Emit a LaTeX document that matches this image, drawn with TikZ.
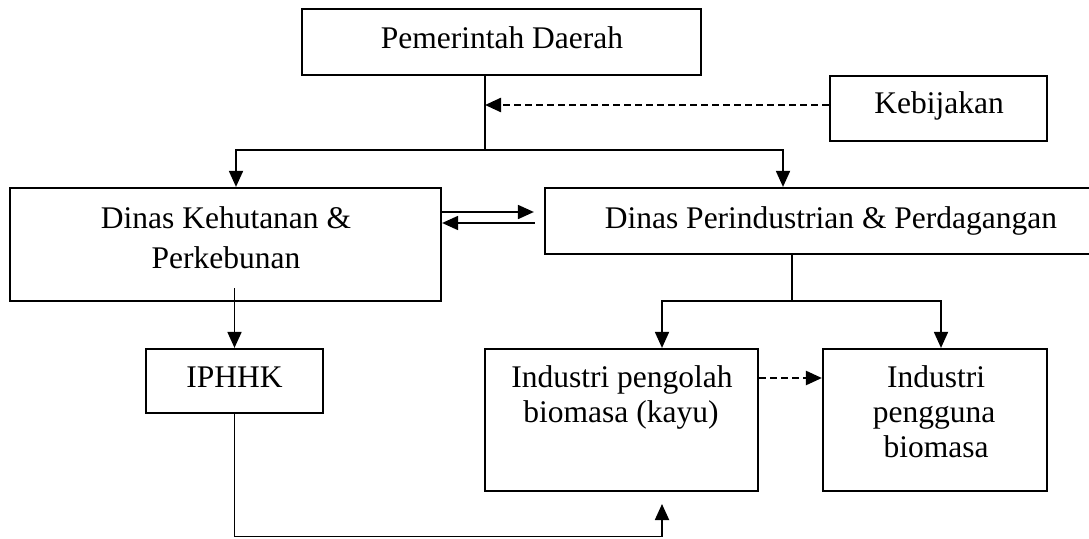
\documentclass[tikz,border=0pt]{standalone}
\usepackage{fontspec}
\setmainfont{Liberation Serif}
\usetikzlibrary{arrows.meta,calc}
\begin{document}
\begin{tikzpicture}[x=1pt,y=-1pt,
  box/.style={draw,line width=2.2pt,inner sep=0pt},
  txt/.style={anchor=base,inner sep=0pt,font=\fontsize{31.5}{35}\selectfont},
  conn/.style={line width=1.8pt},
  arr/.style={conn,-{Triangle[length=16pt,width=14pt]}},
  dasharr/.style={line width=2.4pt,dash pattern=on 7pt off 4pt,-{Triangle[length=16pt,width=14pt]}}]
\clip (0,0) rectangle (1089,538);
% boxes
\node[box,minimum width=399pt,minimum height=66pt] (pd) at (501.5,42) {};
\node[box,minimum width=217pt,minimum height=65pt] (keb) at (938.5,108.5) {};
\node[box,minimum width=431pt,minimum height=113pt] (dk) at (225.5,244.5) {};
\node[box,minimum width=555pt,minimum height=66pt] (dp) at (822.5,221) {};
\node[box,minimum width=177pt,minimum height=64pt] (ip) at (234.5,381) {};
\node[box,minimum width=273pt,minimum height=142pt] (ipb) at (621.5,420) {};
\node[box,minimum width=224pt,minimum height=142pt] (iu) at (935,420) {};
% texts
\node[txt] (tpd) at (502,48) {Pemerintah Daerah};
\node[txt] (tkeb) at (939,113) {Kebijakan};
\node[txt] (tdk1) at (226,228) {Dinas Kehutanan \&};
\node[txt] (tdk2) at (226,268) {Perkebunan};
\node[txt] (tdp) at (831,228) {Dinas Perindustrian \& Perdagangan};
\node[txt] (tip) at (234.5,387) {IPHHK};
\node[txt] (tipb1) at (622,387) {Industri pengolah};
\node[txt] (tipb2) at (621,422) {biomasa (kayu)};
\node[txt] (tiu1) at (936,387) {Industri};
\node[txt] (tiu2) at (934,422) {pengguna};
\node[txt] (tiu3) at (936,457) {biomasa};
% junction coordinates
\coordinate (j1) at (485,150);
\coordinate (j2) at (792,301);
\coordinate (b1) at (662,536.5);
\coordinate (b2) at (662,504);
% Pemerintah -> Dinas
\draw[conn] ([xshift=-16.5pt]pd.south) -- (j1);
\draw[arr] (j1) -| ([xshift=10.5pt]dk.north);
\draw[arr] (j1) -| ([xshift=-39.5pt]dp.north);
% Kebijakan dashed
\draw[dasharr] ([yshift=3.5pt]keb.west) -- (j1 |- 0,105);
% double arrows between Dinas
\draw[arr] ($(dk.east |- dp.west)+(0,-9)$) -- ($(dp.west)+(-10,-9)$);
\draw[arr] ($(dp.west)+(-9,2)$) -- ($(dk.east |- dp.west)+(0,2)$);
% Dinas Perindustrian -> industries
\draw[conn] (dp.south -| j2) -- (j2);
\draw[arr] (j2) -| (ipb.north -| b1);
\draw[arr] (j2) -| ([xshift=6pt]iu.north);
% Dinas Kehutanan -> IPHHK
\draw[arr] ($(ip.north |- dk.south)+(0,-14)$) -- (ip.north);
% IPHHK -> Industri pengolah
\draw[arr] (ip.south) |- (b1) -- (b2);
% dashed between industries
\draw[dasharr] ([yshift=42pt]ipb.east) -- ([yshift=42pt]iu.west);
\end{tikzpicture}
\end{document}
